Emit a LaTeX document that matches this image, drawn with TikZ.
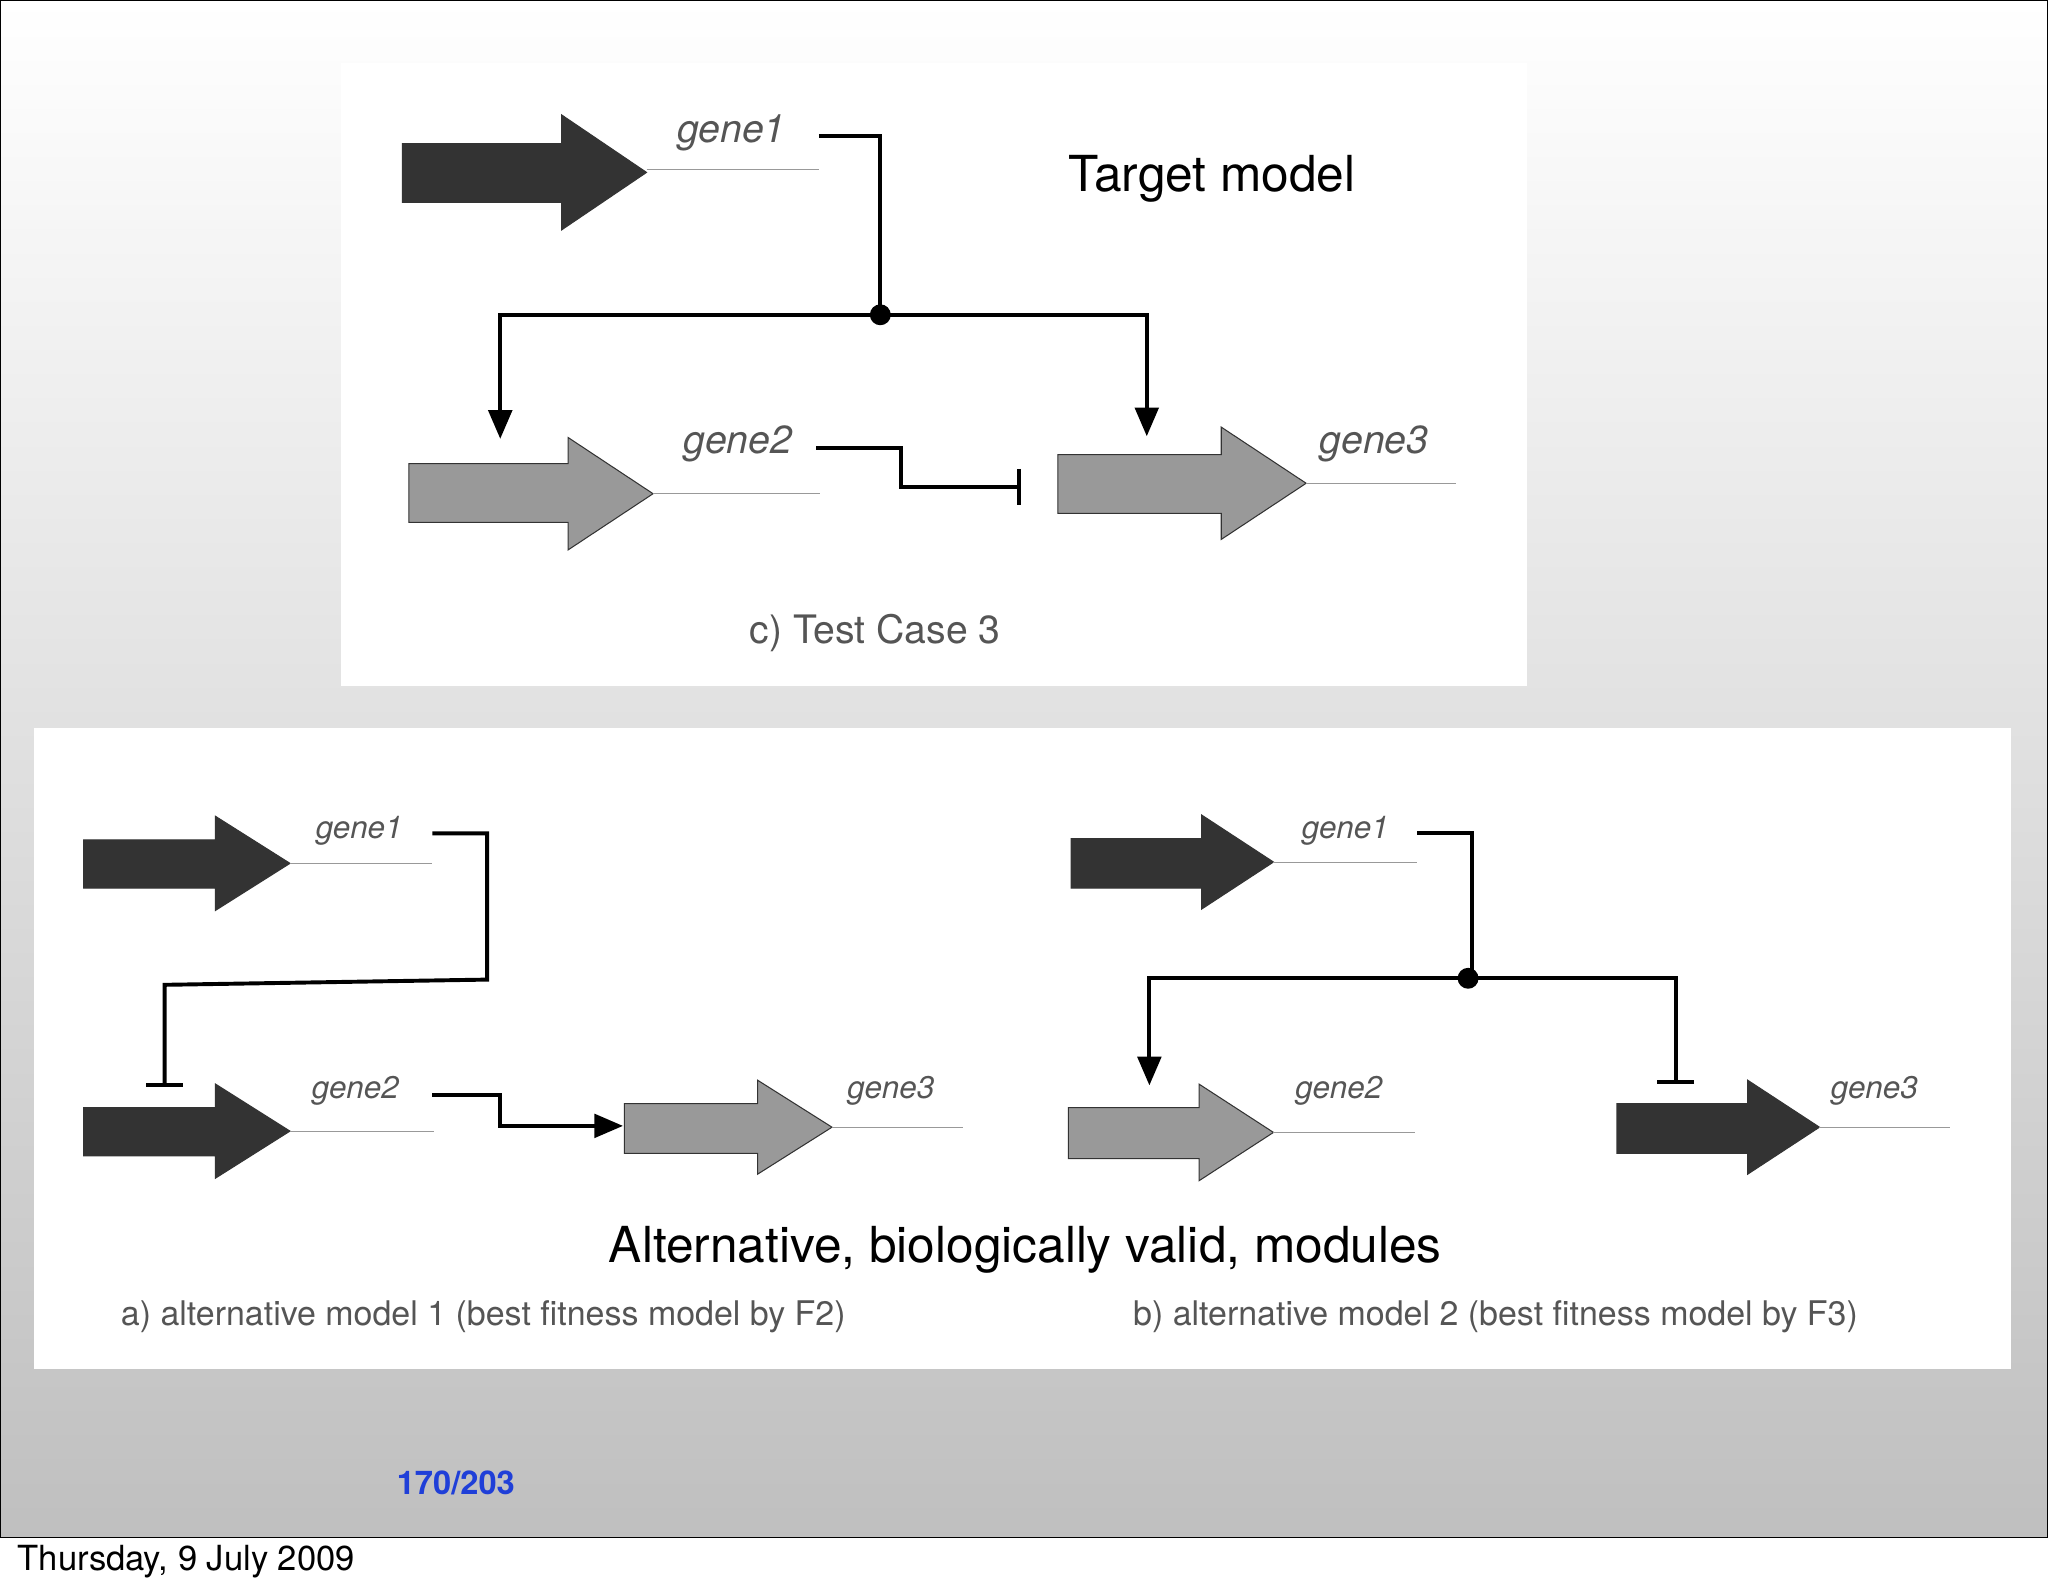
\documentclass[tikz,border=0pt]{standalone}
\usepackage{fontspec}
\setmainfont{TeX Gyre Heros}
\usetikzlibrary{arrows.meta}
\definecolor{dk}{HTML}{333333}
\definecolor{lg}{HTML}{999999}
\definecolor{tx}{HTML}{555555}
\definecolor{pgc}{HTML}{1F3FD8}
\newcommand\garrow[8]{% x0 xs xt ytop ybot ytip hh fill
 \fill[#8,draw=dk,line width=0.8] (#1,#4)--(#2,#4)--(#2,#6-#7)--(#3,#6)--(#2,#6+#7)--(#2,#5)--(#1,#5)--cycle;}
\begin{document}
\begin{tikzpicture}[x=1pt,y=-1pt,
 gl/.style={font=\itshape\fontsize{30}{32}\selectfont,text=tx},
 gs/.style={font=\itshape\fontsize{24}{26}\selectfont,text=tx},
 captxt/.style={font=\fontsize{26}{28}\selectfont,text=tx},
 big/.style={font=\fontsize{38}{40}\selectfont,text=black},
 ln/.style={line width=0.8,draw=lg},
 cn/.style={line width=3,draw=black},
 ar/.style={cn,-{Triangle[length=22,width=18]}},
 inh/.style={cn,-{Bar[width=28,line width=3]}}]
\useasboundingbox (0,0) rectangle (1568,1220);
\shade[top color=white,bottom color=black!25] (0,0) rectangle (1568,1177);
\draw[line width=1] (0,0) rectangle (1568,1177);
\fill[white] (261,48) rectangle (1169,525);
\fill[white] (26,557) rectangle (1540,1048);
% top
\garrow{308}{430}{495}{110}{155}{132}{44}{dk}
\draw[ln] (495,130)--(627,130);
\node[gl] (t1) at (560,102) {gene1};
\garrow{313}{435}{500}{355}{400}{378}{43}{lg}
\draw[ln] (500,378)--(628,378);
\node[gl] (t2) at (565,340) {gene2};
\garrow{810}{935}{1000}{348}{393}{370}{43}{lg}
\draw[ln] (1000,370)--(1115,370);
\node[gl] (t3) at (1052,340) {gene3};
\coordinate (j1) at (674,241);
\draw[cn] (627,104)--(674,104)--(j1);
\fill (j1) circle (8);
\draw[ar] (j1)-|(383,336);
\draw[ar] (j1)-|(878,334);
\draw[inh] (625,343)--(690,343)--(690,373)--(782,373);
\node[big] (tm) at (928,137) {Target model};
\node[captxt,font=\fontsize{30}{32}\selectfont] (tc) at (670,485) {c) Test Case 3};
% bottom left
\garrow{64}{165}{222}{643}{680}{661}{36}{dk}
\draw[ln] (222,661)--(331,661);
\node[gs] (a1) at (275,636) {gene1};
\garrow{64}{165}{222}{848}{885}{866}{36}{dk}
\draw[ln] (222,866)--(332,866);
\node[gs] (a2) at (272,835) {gene2};
\garrow{478}{580}{637}{845}{883}{863}{36}{lg}
\draw[ln] (637,863)--(737,863);
\node[gs] (a3) at (682,835) {gene3};
\draw[inh] (331,638)--(373,638)--(373,750)--(126,754)--(126,832);
\draw[ar] (331,838)--(383,838)--(383,862)--(477,862);
% bottom right
\garrow{820}{920}{975}{642}{680}{660}{36}{dk}
\draw[ln] (975,660)--(1085,660);
\node[gs] (b1) at (1030,636) {gene1};
\garrow{818}{918}{975}{848}{887}{867}{37}{lg}
\draw[ln] (975,867)--(1083,867);
\node[gs] (b2) at (1025,835) {gene2};
\garrow{1238}{1338}{1393}{845}{883}{863}{36}{dk}
\draw[ln] (1393,863)--(1493,863);
\node[gs] (b3) at (1435,835) {gene3};
\coordinate (j2) at (1124,749);
\draw[cn] (1085,638)--(1127,638)--(1127,749);
\fill (j2) circle (8);
\draw[ar] (j2)-|(880,831);
\draw[inh] (j2)-|(1283,830);
\node[big] (alt) at (785,957) {Alternative, biologically valid, modules};
\node[captxt] (ca) at (370,1008) {a) alternative model 1 (best fitness model by F2)};
\node[captxt] (cb) at (1145,1008) {b) alternative model 2 (best fitness model by F3)};
\node[font=\bfseries\fontsize{25}{27}\selectfont,text=pgc] (pg) at (349,1135) {170/203};
\node[font=\fontsize{26.5}{28}\selectfont,anchor=west] (dt) at (10,1196) {Thursday, 9 July 2009};
\end{tikzpicture}
\end{document}
